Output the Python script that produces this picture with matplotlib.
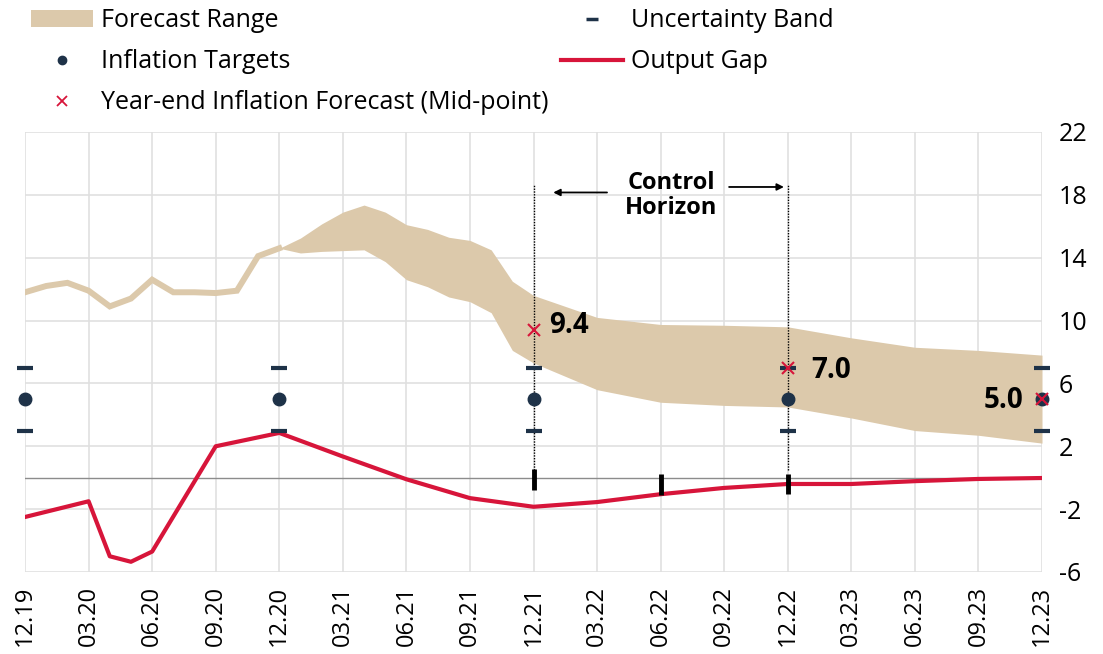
import matplotlib
matplotlib.use("Agg")
import matplotlib.pyplot as plt
from matplotlib.patches import Patch
from matplotlib.lines import Line2D
import numpy as np

plt.rcParams['font.family'] = ['Open Sans', 'DejaVu Sans']

# month index: 0 = 12.19 ... 48 = 12.23
quarter_labels = ["12.19", "03.20", "06.20", "09.20", "12.20", "03.21", "06.21",
                  "09.21", "12.21", "03.22", "06.22", "09.22", "12.22", "03.23",
                  "06.23", "09.23", "12.23"]

# realised inflation (single line before the forecast range)
hist_months = [0, 1, 2, 3, 4, 5, 6, 7, 8, 9, 10, 11, 12]
hist_vals = [11.8, 12.2, 12.4, 11.9, 10.9, 11.4, 12.6, 11.8, 11.8, 11.75, 11.9, 14.1, 14.6]

# forecast range
band_months = [12, 13, 14, 15, 16, 17, 18, 19, 20, 21, 22, 23, 24,
               27, 30, 33, 36, 39, 42, 45, 48]
band_upper = [14.6, 15.25, 16.15, 16.9, 17.35, 16.9, 16.1, 15.8, 15.3, 15.1, 14.5, 12.5, 11.6,
              10.2, 9.75, 9.7, 9.6, 8.9, 8.3, 8.1, 7.8]
band_lower = [14.6, 14.3, 14.4, 14.45, 14.5, 13.75, 12.6, 12.15, 11.5, 11.2, 10.5, 8.1, 7.3,
              5.6, 4.8, 4.6, 4.5, 3.8, 3.0, 2.7, 2.2]

# output gap
gap_months = [0, 3, 4, 5, 6, 9, 12, 15, 18, 21, 24, 27, 30, 33, 36, 39, 42, 45, 48]
gap_vals = [-2.5, -1.5, -5.0, -5.35, -4.7, 2.0, 2.85, 1.35, -0.1, -1.3, -1.85,
            -1.55, -1.05, -0.65, -0.4, -0.4, -0.22, -0.08, -0.02]

# black markers on the output gap
bar_months = [24, 30, 36]
bar_low = [-0.77, -1.07, -1.02]
bar_high = [0.53, 0.26, 0.26]

# targets and uncertainty band
target_months = [0, 12, 24, 36, 48]
target_vals = [5, 5, 5, 5, 5]
band_up_vals = [7, 7, 7, 7, 7]
band_lo_vals = [3, 3, 3, 3, 3]

# year-end mid-points
mid_months = [24, 36, 48]
mid_vals = [9.4, 7.0, 5.0]

tan = "#dcc9ab"
red = "#d7153a"
navy = "#1e3248"

fig = plt.figure(figsize=(11.03, 6.54), dpi=100)
ax = fig.add_axes([0.0227, 0.1254, 0.922, 0.6728])

ax.plot(hist_months, hist_vals, color=tan, lw=4.3, solid_joinstyle='miter', zorder=2)
ax.fill_between(band_months, band_lower, band_upper, color=tan, lw=0, zorder=2)

ax.axhline(0, color="#8c8c8c", lw=1, zorder=1)
ax.plot(gap_months, gap_vals, color=red, lw=3, zorder=4)

for m in [24, 36]:
    ax.plot([m, m], [0.5, 18.7], color="black", lw=1, ls=(0, (1, 1)), zorder=3)

ax.vlines(bar_months, bar_low, bar_high, color="black", lw=3.5, zorder=5)

ax.plot(target_months, band_up_vals, ls='none', marker='_', ms=11, mew=3, color=navy,
        clip_on=False, zorder=5)
ax.plot(target_months, band_lo_vals, ls='none', marker='_', ms=11, mew=3, color=navy,
        clip_on=False, zorder=5)
ax.plot(target_months, target_vals, ls='none', marker='o', ms=9, color=navy,
        clip_on=False, zorder=5)
ax.plot(mid_months, mid_vals, ls='none', marker='x', ms=8, mew=1.5, color=red,
        clip_on=False, zorder=6)

ax.text(mid_months[0] + 0.75, mid_vals[0] + 0.3, f"{mid_vals[0]:.1f}", fontsize=20,
        fontweight='bold', va='center', ha='left')
ax.text(mid_months[1] + 1.1, mid_vals[1] - 0.15, f"{mid_vals[1]:.1f}", fontsize=20,
        fontweight='bold', va='center', ha='left')
ax.text(mid_months[2] - 0.9, mid_vals[2] - 0.1, f"{mid_vals[2]:.1f}", fontsize=20,
        fontweight='bold', va='center', ha='right')

ax.text(30.5, 17.95, "Control\nHorizon", fontsize=17, fontweight='bold',
        ha='center', va='center', linespacing=1.05)
ax.annotate("", xy=(24.8, 18.15), xytext=(27.6, 18.15),
            arrowprops=dict(arrowstyle="-|>", color="black", lw=1.3, mutation_scale=10))
ax.annotate("", xy=(35.95, 18.5), xytext=(33.1, 18.5),
            arrowprops=dict(arrowstyle="-|>", color="black", lw=1.3, mutation_scale=10))

ax.set_xlim(0, 48)
ax.set_ylim(-6, 22)
ax.set_xticks(np.arange(0, 49, 3))
ax.set_xticklabels(quarter_labels, rotation=90, fontsize=17)
ax.set_yticks(np.arange(-6, 23, 4))
ax.set_yticklabels([str(v) for v in range(-6, 23, 4)], fontsize=18)
ax.yaxis.tick_right()
ax.tick_params(length=0, pad=12)
ax.tick_params(axis='x', pad=10)
ax.grid(True, color="#e0e0e0", lw=1.2)
ax.set_axisbelow(True)
for s in ax.spines.values():
    s.set_visible(False)

handles = [
    Patch(facecolor=tan, edgecolor='none'),
    Line2D([], [], ls='none', marker='o', ms=6, color=navy),
    Line2D([], [], ls='none', marker='x', ms=7, mew=1.3, color=red),
    Line2D([], [], ls='none', marker='_', ms=9, mew=2.5, color=navy),
    Line2D([], [], color=red, lw=3),
]
labels = ["Forecast Range", "Inflation Targets", "Year-end Inflation Forecast (Mid-point)",
          "Uncertainty Band", "Output Gap"]
fig.legend(handles, labels, ncol=2, loc='upper left', bbox_to_anchor=(0.012, 1.014),
           frameon=False, fontsize=18, handlelength=2.5, handletextpad=0.3,
           labelspacing=0.64, columnspacing=0.5, borderaxespad=0.3)

fig.savefig("out.png", dpi=100)
